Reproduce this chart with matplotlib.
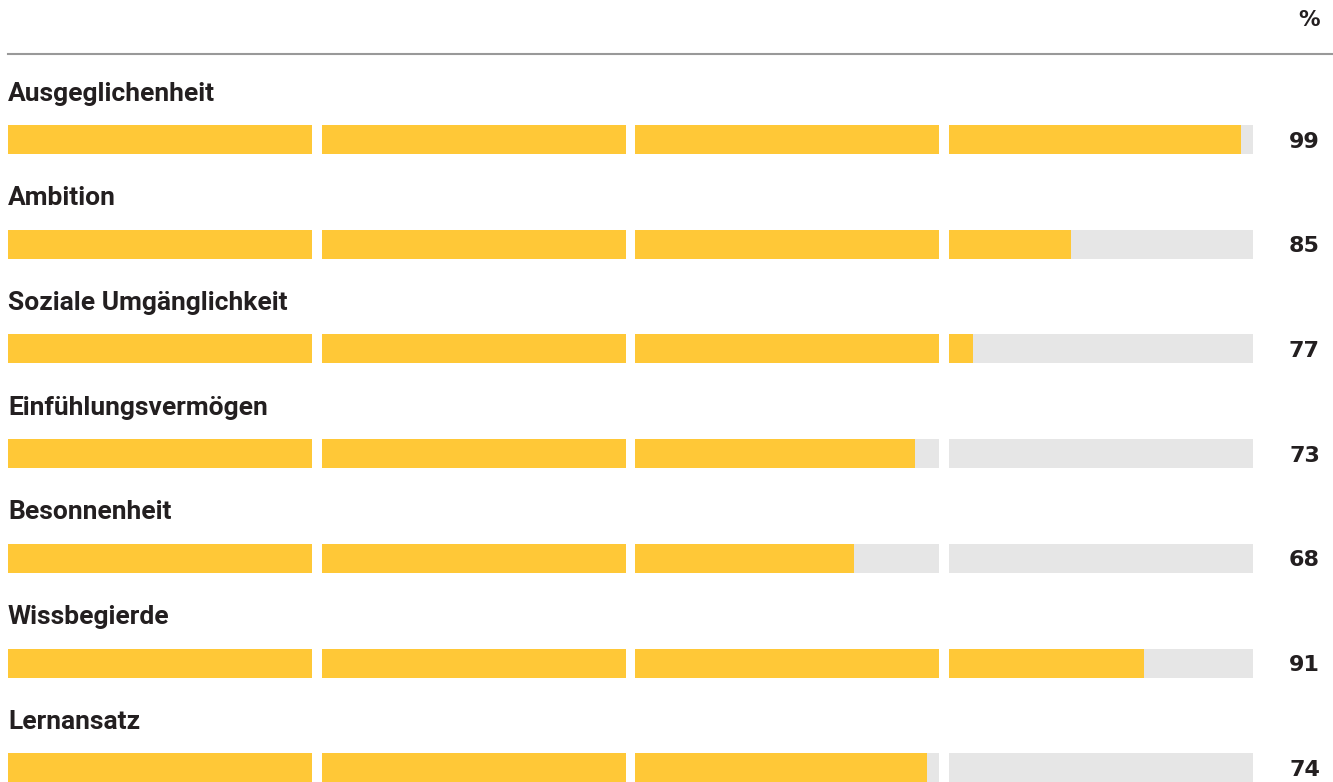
import matplotlib.pyplot as plt
from matplotlib.transforms import blended_transform_factory

# data
categories = ['Ausgeglichenheit', 'Ambition', 'Soziale Umgänglichkeit',
              'Einfühlungsvermögen', 'Besonnenheit', 'Wissbegierde', 'Lernansatz']
values = [99, 85, 77, 73, 68, 91, 74]
unit_label = '%'

yellow = '#FFC837'
grey = '#E6E6E6'
text_col = '#231F20'

W, H = 1333, 782
fig = plt.figure(figsize=(W / 100, H / 100), dpi=100)
ax = fig.add_axes([0, 0, 1, 1])
ax.set_axis_off()

seg = 25
gap = 0.8
total = 4 * seg + 3 * gap
scale = (1253 - 8) / total  # px per unit
ax.set_xlim(-8 / scale, (W - 8) / scale)
ax.set_ylim(H, 0)

tr = blended_transform_factory(ax.transAxes, ax.transData)

row_h = 104.7
first = 139.5
bar_h = 29

for i, (cat, v) in enumerate(zip(categories, values)):
    yc = first + i * row_h
    for s in range(4):
        x0 = s * (seg + gap)
        ax.barh(yc, seg, left=x0, height=bar_h, color=grey, linewidth=0)
        fill = min(max(v - s * seg, 0), seg)
        if fill > 0:
            ax.barh(yc, fill, left=x0, height=bar_h, color=yellow, linewidth=0)
    ax.text(0, yc - 46, cat, fontsize=19, fontweight='bold', family='Roboto',
            color=text_col, va='center', ha='left')
    ax.text(1320 / W, yc + 2, str(v), transform=tr, fontsize=16, fontweight='bold',
            family='DejaVu Sans', color=text_col, va='center', ha='right')

ax.text(1320 / W, 20, unit_label, transform=tr, fontsize=15.5, fontweight='bold',
        family='DejaVu Sans', color=text_col, va='center', ha='right')
ax.plot([8 / W, 1], [54, 54], transform=tr, color='#999999', linewidth=1.5)

fig.savefig('out.png', dpi=100)
